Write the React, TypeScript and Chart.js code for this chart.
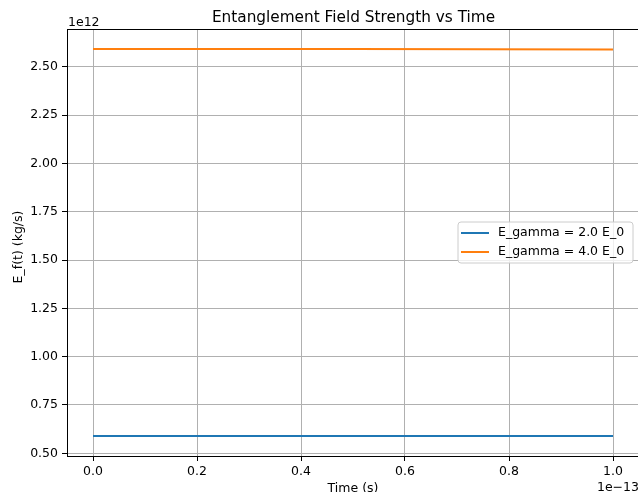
import React, { useEffect, useRef } from "react";
import { Chart, registerables } from "chart.js";

Chart.register(...registerables);

// time in units of 1e-13 s
const timeValues = [0, 0.25, 0.5, 0.75, 1.0];
// field strength in units of 1e12 kg/s
const gamma2Values = [0.59, 0.59, 0.59, 0.59, 0.59];
const gamma4Values = [2.593, 2.592, 2.592, 2.591, 2.59];
const seriesLabels = ["E_gamma = 2.0 E_0", "E_gamma = 4.0 E_0"];
const xTickValues = [0, 0.2, 0.4, 0.6, 0.8, 1.0];
const yTickValues = [0.5, 0.75, 1.0, 1.25, 1.5, 1.75, 2.0, 2.25, 2.5];

const BLUE = "#1f77b4";
const ORANGE = "#ff7f0e";
const FONT = "'DejaVu Sans', sans-serif";

const overlay = {
  id: "overlay",
  afterDraw(chart: any) {
    const ctx = chart.ctx as CanvasRenderingContext2D;
    const a = chart.chartArea;
    ctx.save();
    // frame
    ctx.strokeStyle = "#000";
    ctx.lineWidth = 1;
    ctx.strokeRect(Math.round(a.left) + 0.5, Math.round(a.top) + 0.5, Math.round(a.right - a.left), Math.round(a.bottom - a.top));
    // title
    ctx.fillStyle = "#000";
    ctx.font = `15.3px ${FONT}`;
    ctx.textAlign = "center";
    ctx.textBaseline = "alphabetic";
    ctx.fillText("Entanglement Field Strength vs Time", 353.5, 22);
    // offsets
    ctx.font = `12.5px ${FONT}`;
    ctx.textAlign = "left";
    ctx.fillText("1e12", 68, 26);
    ctx.textAlign = "right";
    ctx.fillText("1e\u221213", 639, 491);
    // x label
    ctx.textAlign = "center";
    ctx.fillText("Time (s)", (a.left + a.right) / 2, 492);
    // y label
    ctx.save();
    ctx.translate(19, 247);
    ctx.rotate(-Math.PI / 2);
    ctx.textBaseline = "middle";
    ctx.fillText("E_f(t) (kg/s)", 0, 0);
    ctx.restore();
    // legend
    const bx = 458, by = 222, bw = 175, bh = 41, r = 3;
    ctx.beginPath();
    ctx.moveTo(bx + r, by);
    ctx.lineTo(bx + bw - r, by);
    ctx.quadraticCurveTo(bx + bw, by, bx + bw, by + r);
    ctx.lineTo(bx + bw, by + bh - r);
    ctx.quadraticCurveTo(bx + bw, by + bh, bx + bw - r, by + bh);
    ctx.lineTo(bx + r, by + bh);
    ctx.quadraticCurveTo(bx, by + bh, bx, by + bh - r);
    ctx.lineTo(bx, by + r);
    ctx.quadraticCurveTo(bx, by, bx + r, by);
    ctx.closePath();
    ctx.fillStyle = "rgba(255,255,255,0.8)";
    ctx.fill();
    ctx.strokeStyle = "#cccccc";
    ctx.lineWidth = 1;
    ctx.stroke();
    const colors = [BLUE, ORANGE];
    const rows = [233, 252];
    seriesLabels.forEach((lab, i) => {
      ctx.strokeStyle = colors[i];
      ctx.lineWidth = 2;
      ctx.beginPath();
      ctx.moveTo(461, rows[i]);
      ctx.lineTo(489, rows[i]);
      ctx.stroke();
      ctx.fillStyle = "#000";
      ctx.textAlign = "left";
      ctx.textBaseline = "middle";
      ctx.font = `12.5px ${FONT}`;
      ctx.fillText(lab, 498, rows[i]);
    });
    ctx.restore();
  },
};

export default function App() {
  const ref = useRef<HTMLCanvasElement>(null);
  useEffect(() => {
    document.body.style.margin = "0";
    const canvas = ref.current!;
    const chart = new Chart(canvas, {
      type: "line",
      data: {
        datasets: [
          {
            label: seriesLabels[0],
            data: timeValues.map((t, i) => ({ x: t, y: gamma2Values[i] })),
            borderColor: BLUE,
            backgroundColor: BLUE,
            borderWidth: 2,
            pointRadius: 0,
            tension: 0,
          },
          {
            label: seriesLabels[1],
            data: timeValues.map((t, i) => ({ x: t, y: gamma4Values[i] })),
            borderColor: ORANGE,
            backgroundColor: ORANGE,
            borderWidth: 2,
            pointRadius: 0,
            tension: 0,
          },
        ],
      },
      options: {
        animation: false,
        responsive: false,
        devicePixelRatio: 1,
        layout: { padding: { top: 29, right: 61, bottom: 0, left: 0 } },
        plugins: { legend: { display: false }, title: { display: false }, tooltip: { enabled: false } },
        scales: {
          x: {
            type: "linear",
            min: -0.05,
            max: 1.05,
            afterBuildTicks: (s: any) => {
              s.ticks = xTickValues.map((v) => ({ value: v }));
            },
            afterFit: (s: any) => {
              s.height = 64;
            },
            ticks: {
              callback: (v: any) => Number(v).toFixed(1),
              color: "#000",
              font: { family: FONT, size: 12.5 },
              padding: 3,
              maxRotation: 0,
              autoSkip: false,
            },
            grid: { color: "#b0b0b0", lineWidth: 1, tickColor: "#000", tickLength: 5, tickWidth: 1 },
            border: { display: false },
          },
          y: {
            type: "linear",
            min: 0.486,
            max: 2.696,
            afterBuildTicks: (s: any) => {
              s.ticks = yTickValues.map((v) => ({ value: v }));
            },
            afterFit: (s: any) => {
              s.width = 67;
            },
            ticks: {
              callback: (v: any) => Number(v).toFixed(2),
              color: "#000",
              font: { family: FONT, size: 12.5 },
              padding: 4,
              autoSkip: false,
            },
            grid: { color: "#b0b0b0", lineWidth: 1, tickColor: "#000", tickLength: 5, tickWidth: 1 },
            border: { display: false },
          },
        },
      } as any,
      plugins: [overlay],
    });
    return () => chart.destroy();
  }, []);
  return (
    <div style={{ position: "fixed", left: 0, top: 0, width: 638, height: 492, overflow: "hidden", background: "#fff" }}>
      <canvas ref={ref} width={700} height={520} style={{ width: 700, height: 520, display: "block" }} />
    </div>
  );
}
